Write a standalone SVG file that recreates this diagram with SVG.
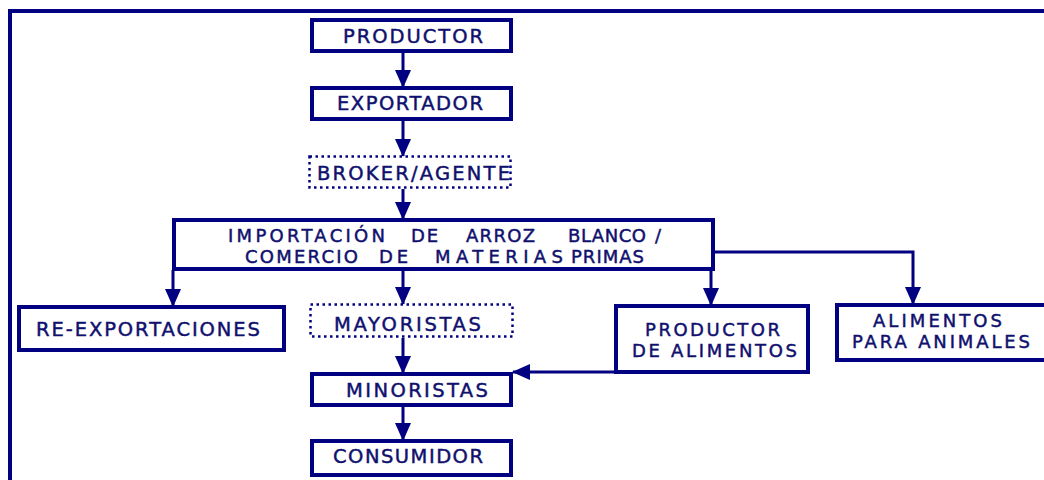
<svg xmlns="http://www.w3.org/2000/svg" width="1044" height="480" viewBox="0 0 1044 480">
<style>
  .box { fill: #ffffff; stroke: #000080; stroke-width: 4; }
  .dot { fill: #ffffff; stroke: #000080; stroke-width: 2.5; stroke-dasharray: 2.5 3.5; }
  .lbl { font-family: "DejaVu Sans", Verdana, sans-serif; font-size: 19.5px; fill: #10106e; stroke: #10106e; stroke-width: 0.45; }
  .two { font-size: 18px; }
  .con { fill: none; stroke: #000080; stroke-width: 3; }
  .frame { fill: none; stroke: #000080; stroke-width: 4; }
</style>
<defs>
  <marker id="arr" markerUnits="userSpaceOnUse" markerWidth="18" markerHeight="16" refX="17" refY="8" orient="auto">
    <path d="M0,0 L18,8 L0,16 z" fill="#000080"/>
  </marker>
</defs>
<rect width="1044" height="480" fill="#ffffff"/>
<path class="frame" d="M10,482 V11 H1046"/>

<g id="connectors">
  <line class="con" x1="403" y1="53" x2="403" y2="87" marker-end="url(#arr)"/>
  <line class="con" x1="403" y1="121" x2="403" y2="156" marker-end="url(#arr)"/>
  <line class="con" x1="403" y1="189" x2="403" y2="219" marker-end="url(#arr)"/>
  <line class="con" x1="173" y1="270" x2="173" y2="306" marker-end="url(#arr)"/>
  <line class="con" x1="403" y1="270" x2="403" y2="304" marker-end="url(#arr)"/>
  <line class="con" x1="711" y1="270" x2="711" y2="305" marker-end="url(#arr)"/>
  <path class="con" d="M715,252 H913 V304" marker-end="url(#arr)"/>
  <line class="con" x1="403" y1="338" x2="403" y2="373" marker-end="url(#arr)"/>
  <line class="con" x1="403" y1="407" x2="403" y2="440" marker-end="url(#arr)"/>
  <line class="con" x1="614" y1="372" x2="513" y2="372" marker-end="url(#arr)"/>
</g>

<g id="productor">
  <rect class="box" x="312" y="20" width="199" height="31"/>
  <text class="lbl" x="343" y="43" textLength="140" lengthAdjust="spacing">PRODUCTOR</text>
</g>
<g id="exportador">
  <rect class="box" x="312" y="88" width="199" height="31"/>
  <text class="lbl" x="337" y="110" textLength="146" lengthAdjust="spacing">EXPORTADOR</text>
</g>
<g id="broker">
  <rect class="dot" x="309.5" y="156.5" width="201" height="31"/>
  <text class="lbl" x="317" y="180" textLength="193" lengthAdjust="spacing">BROKER/AGENTE</text>
</g>
<g id="importacion">
  <rect class="box" x="174" y="220" width="539" height="49"/>
  <text class="lbl two" y="242"><tspan x="228" textLength="157" lengthAdjust="spacing">IMPORTACIÓN</tspan><tspan x="411" textLength="27" lengthAdjust="spacing">DE</tspan><tspan x="466" textLength="69" lengthAdjust="spacing">ARROZ</tspan><tspan x="568" textLength="78" lengthAdjust="spacing">BLANCO</tspan><tspan x="655">/</tspan></text>
  <text class="lbl two" y="263"><tspan x="245" textLength="113" lengthAdjust="spacing">COMERCIO</tspan><tspan x="379" textLength="29" lengthAdjust="spacing">DE</tspan><tspan x="435" textLength="128" lengthAdjust="spacing">MATERIAS</tspan><tspan x="571" textLength="73" lengthAdjust="spacing">PRIMAS</tspan></text>
</g>
<g id="reexportaciones">
  <rect class="box" x="19" y="307" width="265" height="43"/>
  <text class="lbl" x="36" y="336" textLength="224" lengthAdjust="spacing">RE-EXPORTACIONES</text>
</g>
<g id="mayoristas">
  <rect class="dot" x="310.5" y="304.5" width="202" height="32"/>
  <text class="lbl" x="334" y="331" textLength="147" lengthAdjust="spacing">MAYORISTAS</text>
</g>
<g id="productor-alimentos">
  <rect class="box" x="616" y="306" width="192" height="66"/>
  <text class="lbl two" x="645" y="336" textLength="135" lengthAdjust="spacing">PRODUCTOR</text>
  <text class="lbl two" x="632" y="357" textLength="165" lengthAdjust="spacing">DE ALIMENTOS</text>
</g>
<g id="alimentos-animales">
  <rect class="box" x="837" y="305" width="215" height="55"/>
  <text class="lbl two" x="873" y="327" textLength="129" lengthAdjust="spacing">ALIMENTOS</text>
  <text class="lbl two" x="852" y="348" textLength="178" lengthAdjust="spacing">PARA ANIMALES</text>
</g>
<g id="minoristas">
  <rect class="box" x="312" y="374" width="199" height="31"/>
  <text class="lbl" x="346" y="397" textLength="142" lengthAdjust="spacing">MINORISTAS</text>
</g>
<g id="consumidor">
  <rect class="box" x="312" y="441" width="199" height="34"/>
  <text class="lbl" x="333" y="463" textLength="150" lengthAdjust="spacing">CONSUMIDOR</text>
</g>
</svg>
